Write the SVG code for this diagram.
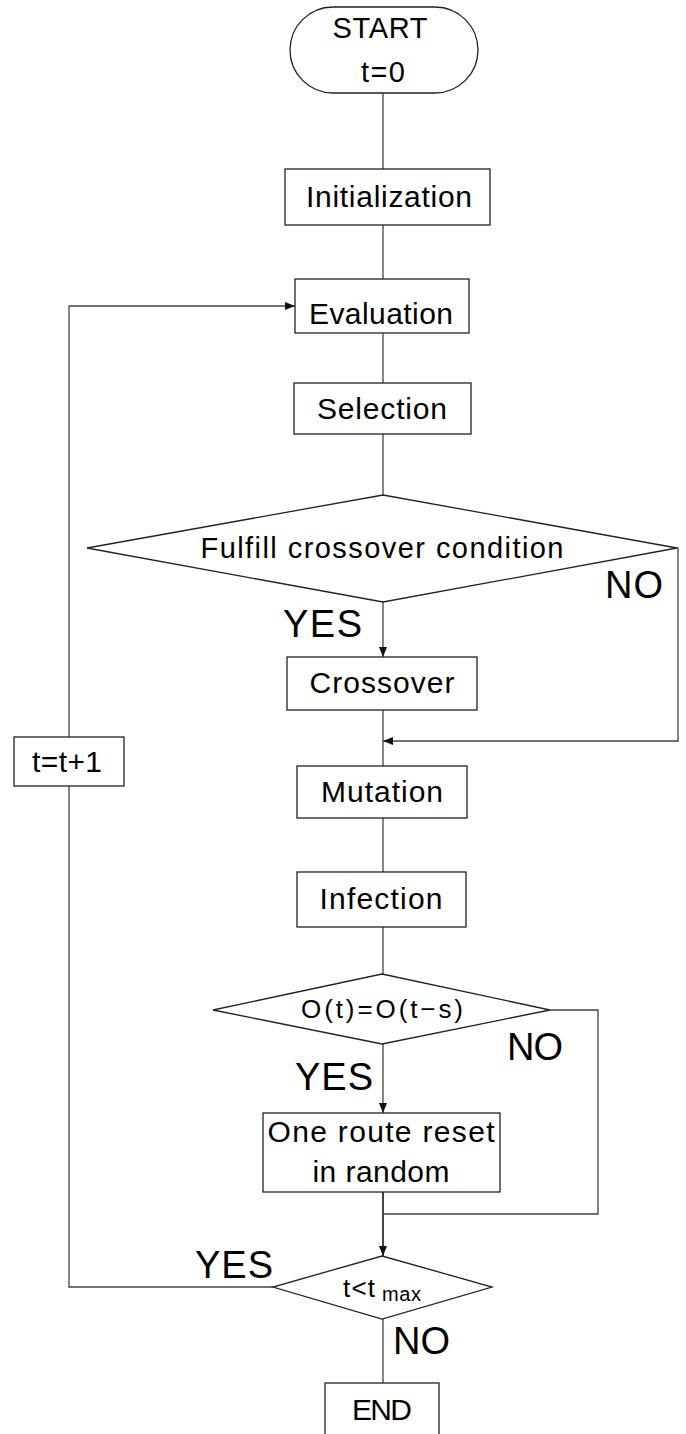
<svg xmlns="http://www.w3.org/2000/svg" width="686" height="1434" viewBox="0 0 686 1434">
<style>
.box{fill:#fff;stroke:#222;stroke-width:1.3}
.ln{fill:none;stroke:#444;stroke-width:1.3}
.lbl{font-family:"Liberation Sans",Arial,sans-serif;font-size:30px;fill:#000;text-anchor:middle}
.yn{font-family:"Liberation Sans",Arial,sans-serif;font-size:38px;fill:#000}
</style>
<defs>
<marker id="arr" viewBox="0 0 10 10" refX="10" refY="5" markerWidth="10" markerHeight="10" markerUnits="userSpaceOnUse" orient="auto">
<path d="M0,1 L10,5 L0,9 Z" fill="#111"/>
</marker>
</defs>
<g id="connectors">
<line class="ln" x1="383" y1="93" x2="383" y2="169"/>
<line class="ln" x1="383" y1="225" x2="383" y2="279"/>
<line class="ln" x1="383" y1="333" x2="383" y2="383"/>
<line class="ln" x1="383" y1="434" x2="383" y2="495"/>
<line class="ln" x1="383" y1="602" x2="383" y2="657" marker-end="url(#arr)"/>
<line class="ln" x1="383" y1="710" x2="383" y2="766"/>
<polyline class="ln" points="677,548 678,548 678,741 383,741" marker-end="url(#arr)"/>
<line class="ln" x1="383" y1="818" x2="383" y2="872"/>
<line class="ln" x1="383" y1="927" x2="383" y2="974"/>
<line class="ln" x1="383" y1="1044" x2="383" y2="1113" marker-end="url(#arr)"/>
<polyline class="ln" points="550,1010 598,1010 598,1214 383,1214"/>
<line class="ln" x1="383" y1="1192" x2="383" y2="1256" style="stroke-width:2" marker-end="url(#arr)"/>
<polyline class="ln" points="273,1287 69,1287 69,306 295,306" marker-end="url(#arr)"/>
<line class="ln" x1="383" y1="1319" x2="383" y2="1383"/>
</g>
<g id="start">
<rect class="box" x="290" y="7" width="188" height="86" rx="43" ry="43"/>
<text class="lbl" x="380" y="38" textLength="95" style="font-size:29px">START</text>
<text class="lbl" x="383" y="82" textLength="44" style="font-size:29px">t=0</text>
</g>
<g id="init">
<rect class="box" x="285" y="169" width="205" height="56"/>
<text class="lbl" x="389" y="207" textLength="166">Initialization</text>
</g>
<g id="eval">
<rect class="box" x="295" y="279" width="174" height="54"/>
<text class="lbl" x="381" y="324" textLength="144">Evaluation</text>
</g>
<g id="selection">
<rect class="box" x="294" y="383" width="177" height="51"/>
<text class="lbl" x="382" y="419" textLength="130">Selection</text>
</g>
<g id="cond1">
<polygon class="box" points="383,495 677,548 383,602 87,548"/>
<text class="lbl" x="382" y="558" textLength="363" style="font-size:29px">Fulfill crossover condition</text>
</g>
<g id="crossover">
<rect class="box" x="287" y="657" width="190" height="53"/>
<text class="lbl" x="382" y="693" textLength="145">Crossover</text>
</g>
<g id="tinc">
<rect class="box" x="14" y="737" width="110" height="49"/>
<text class="lbl" x="67" y="772" textLength="70">t=t+1</text>
</g>
<g id="mutation">
<rect class="box" x="297" y="766" width="170" height="52"/>
<text class="lbl" x="382" y="802" textLength="122">Mutation</text>
</g>
<g id="infection">
<rect class="box" x="297" y="872" width="169" height="55"/>
<text class="lbl" x="381" y="909" textLength="123">Infection</text>
</g>
<g id="cond2">
<polygon class="box" points="382,974 550,1010 382,1044 213,1010"/>
<text class="lbl" x="382" y="1018" textLength="162" style="font-size:26px">O(t)=O(t−s)</text>
</g>
<g id="reset">
<rect class="box" x="263" y="1113" width="237" height="79"/>
<text class="lbl" x="381" y="1142" textLength="227">One route reset</text>
<text class="lbl" x="381" y="1182" textLength="137">in random</text>
</g>
<g id="cond3">
<polygon class="box" points="382,1256 492,1287 382,1319 273,1287"/>
<text x="343" y="1297" textLength="32" style="font-family:'Liberation Sans',Arial,sans-serif;font-size:26px;fill:#000">t&lt;t</text>
<text x="382" y="1301" textLength="39" style="font-family:'Liberation Sans',Arial,sans-serif;font-size:20px;fill:#000">max</text>
</g>
<g id="end">
<rect class="box" x="325" y="1383" width="114" height="60"/>
<text class="lbl" x="382" y="1420" textLength="60">END</text>
</g>
<g id="labels">
<text class="yn" x="283" y="637" textLength="79">YES</text>
<text class="yn" x="605" y="598" textLength="58">NO</text>
<text class="yn" x="295" y="1090" textLength="78">YES</text>
<text class="yn" x="507" y="1060" textLength="56">NO</text>
<text class="yn" x="195" y="1278" textLength="78">YES</text>
<text class="yn" x="393" y="1354" textLength="57">NO</text>
</g>
</svg>
